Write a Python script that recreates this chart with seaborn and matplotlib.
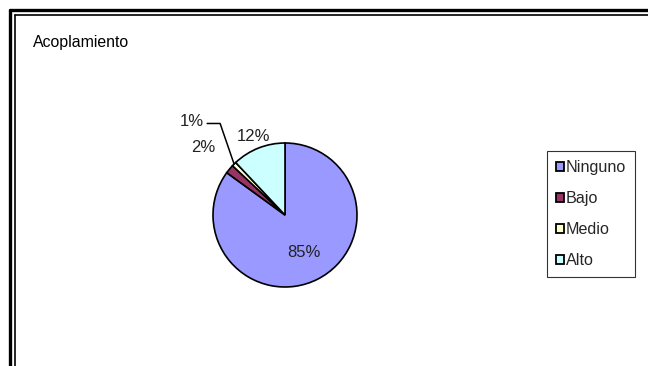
import numpy as np
import matplotlib
matplotlib.use("Agg")
import matplotlib.pyplot as plt
from matplotlib.lines import Line2D
import seaborn as sns

# ---- data ----
categories = ["Ninguno", "Bajo", "Medio", "Alto"]
values = [85, 2, 1, 12]
pct_labels = ["85%", "2%", "1%", "12%"]
title = "Acoplamiento"

# ---- style ----
colors = ["#9999FF", "#993366", "#FFFFCC", "#CCFFFF"]
label_dist = [0.58, 1.48, 1.84, 1.18]

sns.set_theme(style="white")
plt.rcParams["font.family"] = ["Liberation Sans", "DejaVu Sans"]

W, H = 648, 366
fig = plt.figure(figsize=(W / 100, H / 100), dpi=100)
fig.patch.set_facecolor("white")

cx, cy, r = 285, 215, 72
ax = fig.add_axes([(cx - r) / W, (H - cy - r) / H, 2 * r / W, 2 * r / H])
wedges, _ = ax.pie(values, colors=colors, startangle=90, counterclock=False,
                   wedgeprops=dict(edgecolor="black", linewidth=1.2))
ax.set_xlim(-1, 1)
ax.set_ylim(-1, 1)
ax.set_aspect("equal")
ax.axis("off")

for w, lab, d in zip(wedges, pct_labels, label_dist):
    mid = np.deg2rad((w.theta1 + w.theta2) / 2)
    x, y = d * np.cos(mid), d * np.sin(mid)
    ax.text(x, y, lab, ha="center", va="center", fontsize=12, color="#222222",
            clip_on=False)
    if lab == "1%":
        ex, ey = np.cos(mid), np.sin(mid)
        xs = [x + 0.22, x + 0.40, ex]
        ys = [y - 0.03, y - 0.03, ey]
        ax.plot(xs, ys, color="black", lw=1.1, clip_on=False)

fig.text(33 / W, 1 - 47 / H, title, fontsize=11.4, ha="left", va="baseline",
         color="black")

leg = fig.legend(wedges, categories, loc="upper left",
                 bbox_to_anchor=(547 / W, 1 - 151 / H), borderaxespad=0,
                 prop={"size": 11.6}, frameon=True, fancybox=False, shadow=False,
                 handlelength=0.5, handleheight=0.5, handletextpad=0.1,
                 labelspacing=1.0, borderpad=0.55)
leg.get_frame().set_edgecolor("black")
leg.get_frame().set_linewidth(0.8)
for h in leg.legend_handles:
    h.set_edgecolor("black")
    h.set_linewidth(1.3)

# double frame border (cropped at right/bottom)
for off, lw in [(9.5, 2.4), (14.5, 1.2)]:
    fig.add_artist(Line2D([off / W, 1.01], [1 - off / H, 1 - off / H],
                          color="black", lw=lw, transform=fig.transFigure))
    fig.add_artist(Line2D([off / W, off / W], [1 - off / H, -0.01],
                          color="black", lw=lw, transform=fig.transFigure))

fig.savefig("out.png", dpi=100, facecolor="white")
